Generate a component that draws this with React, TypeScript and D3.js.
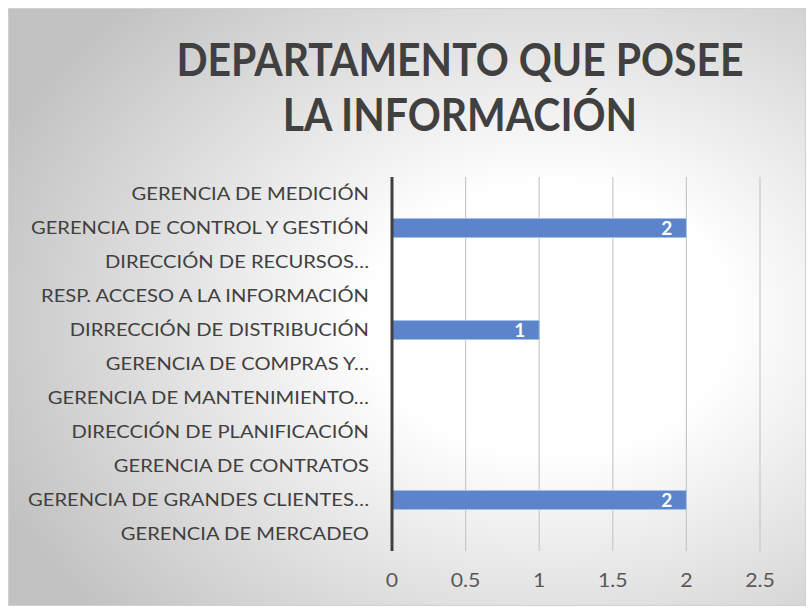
import React from "react";
import * as d3 from "d3";

const categories = [
  "GERENCIA DE MEDICIÓN",
  "GERENCIA DE CONTROL Y GESTIÓN",
  "DIRECCIÓN DE RECURSOS…",
  "RESP. ACCESO A LA INFORMACIÓN",
  "DIRRECCIÓN DE DISTRIBUCIÓN",
  "GERENCIA DE COMPRAS Y…",
  "GERENCIA DE MANTENIMIENTO…",
  "DIRECCIÓN DE PLANIFICACIÓN",
  "GERENCIA DE CONTRATOS",
  "GERENCIA DE GRANDES CLIENTES…",
  "GERENCIA DE MERCADEO",
];
const values = [0, 2, 0, 0, 1, 0, 0, 0, 0, 2, 0];
const xTicks = [0, 0.5, 1, 1.5, 2, 2.5];
const titleLines = ["DEPARTAMENTO QUE POSEE", "LA INFORMACIÓN"];

export default function App() {
  const W = 811, H = 610;
  const left = 392, right = 760, top = 177, bottom = 551;
  const x = d3.scaleLinear().domain([0, 2.5]).range([left, right]);
  const y = d3.scaleBand<string>().domain(categories).range([top, bottom]).paddingInner(0.44).paddingOuter(0.22);
  const font = "Lato, 'Open Sans', sans-serif";
  return (
    <svg width={W} height={H} style={{ position: "absolute", left: 0, top: 0 }}>
      <defs>
        <radialGradient id="bg" cx="0.68" cy="0.52" r="0.75" fx="0.68" fy="0.52">
          <stop offset="0" stopColor="#ffffff" />
          <stop offset="0.3" stopColor="#ffffff" />
          <stop offset="1" stopColor="#c2c2c2" />
        </radialGradient>
      </defs>
      <rect x={8.5} y={8.5} width={797} height={597} fill="url(#bg)" stroke="#d0d0d0" />
      <g transform="translate(460,0) scale(0.89,1) translate(-460,0)">
        {titleLines.map((t, i) => (
          <text key={t} x={460} y={76 + i * 55} textAnchor="middle" fontFamily={font} fontWeight="bold"
            fontSize={46} fill="#404040">{t}</text>
        ))}
      </g>
      {xTicks.slice(1).map((t) => (
        <line key={t} x1={x(t)} x2={x(t)} y1={top} y2={bottom} stroke="#c8c8c8" strokeWidth={1.2} />
      ))}
      {categories.map((c, i) => (
        values[i] > 0 ? (
          <g key={c}>
            <rect x={x(0)} y={y(c)!} width={x(values[i]) - x(0)} height={y.bandwidth()}
              fill="#5b84ca" stroke="#a9c0e6" strokeWidth={1} />
            <text x={x(values[i]) - 14} y={y(c)! + y.bandwidth() / 2 + 7} textAnchor="end"
              fontFamily={font} fontWeight="bold" fontSize={19} fill="#ffffff">{values[i]}</text>
          </g>
        ) : null
      ))}
      <line x1={x(0)} x2={x(0)} y1={top} y2={bottom} stroke="#404040" strokeWidth={3} />
      <g transform="translate(369,0) scale(1.12,1) translate(-369,0)">
        {categories.map((c) => (
          <text key={c} x={369} y={y(c)! + y.bandwidth() / 2 + 6.5} textAnchor="end" fontFamily={font}
            fontSize={18} fill="#404040">{c}</text>
        ))}
      </g>
      {xTicks.map((t) => (
        <text key={t} x={0} y={587} transform={`translate(${x(t)},0) scale(1.12,1)`} textAnchor="middle"
          fontFamily={font} fontSize={19} fill="#595959">{t}</text>
      ))}
    </svg>
  );
}
